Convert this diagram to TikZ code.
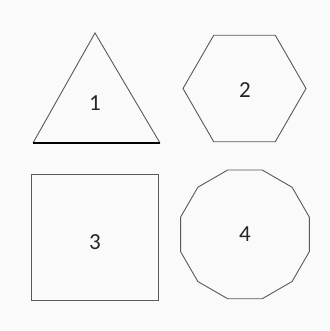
\documentclass[tikz,border=0pt]{standalone}
\usepackage{fontspec}
\setmainfont{Carlito}
\begin{document}
\begin{tikzpicture}[x=1pt,y=-1pt,
  shp/.style={draw=black!65, line width=0.9pt, line join=miter},
  lbl/.style={font=\fontsize{23}{23}\selectfont, text=black!85, inner sep=0pt}]
\useasboundingbox[fill=black!2] (0,0) rectangle (329,331);
% 1: triangle
\coordinate (tA) at (95,33);
\coordinate (tL) at (33,143);
\coordinate (tR) at (160,143);
\draw[shp] (tL) -- (tA) -- (tR);
\draw[draw=black, line width=1.6pt] (tL) -- (tR);
\node[lbl] (n1) at (95,103) {1};
% 2: hexagon
\draw[shp] (244.5,88.5) ++(0:61.5) -- ++(120:61.5) -- ++(180:61.5) -- ++(240:61.5) -- ++(300:61.5) -- ++(0:61.5) -- cycle;
\node[lbl] (n2) at (245,90) {2};
% 3: square
\draw[shp] (31,174) rectangle (158,300);
\node[lbl] (n3) at (95,242) {3};
% 4: dodecagon
\draw[shp] (245,234) ++(-17.3,-64) -- ++(0:34.5) -- ++(30:34.5) -- ++(60:34.5) -- ++(90:34.5) -- ++(120:34.5) -- ++(150:34.5) -- ++(180:34.5) -- ++(210:34.5) -- ++(240:34.5) -- ++(270:34.5) -- ++(300:34.5) -- ++(330:34.5) -- cycle;
\node[lbl] (n4) at (245,234) {4};
\end{tikzpicture}
\end{document}
